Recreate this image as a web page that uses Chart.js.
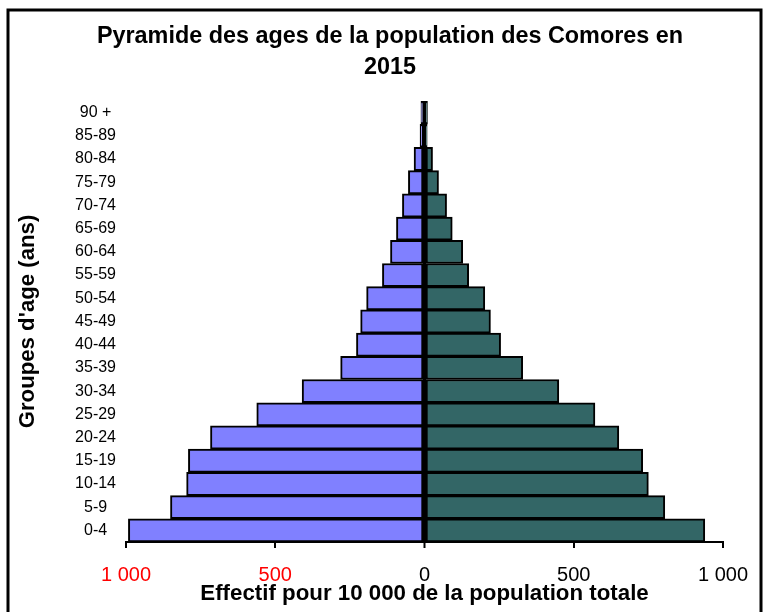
<!DOCTYPE html>
<html>
<head>
<meta charset="utf-8">
<script src="https://cdn.jsdelivr.net/npm/chart.js@4/dist/chart.umd.min.js"></script>
<style>
  html, body { margin: 0; padding: 0; background: #fff; }
  canvas { display: block; }
</style>
</head>
<body>
<canvas id="c" width="764" height="612"></canvas>
<script>
const ageGroups = ["90 +", "85-89", "80-84", "75-79", "70-74", "65-69", "60-64", "55-59", "50-54", "45-49",
                   "40-44", "35-39", "30-34", "25-29", "20-24", "15-19", "10-14", "5-9", "0-4"];
const hommes = [12, 15, 35, 54, 74, 94, 114, 141, 194, 214, 228, 281, 410, 562, 717, 791, 797, 851, 992];
const femmes = [10, 9, 27, 47, 74, 93, 128, 148, 202, 221, 255, 329, 450, 571, 651, 731, 750, 805, 939];
const xTicks = [-1000, -500, 0, 500, 1000];
const titleLines = ["Pyramide des ages de la population des Comores en", "2015"];
const xTitle = "Effectif pour 10 000 de la population totale";
const yTitle = "Groupes d'age (ans)";

Chart.defaults.font.family = "'Liberation Sans', Arial, sans-serif";
Chart.defaults.color = '#000';

const frame = {
  id: 'frame',
  afterDraw(chart) {
    const ctx = chart.ctx;
    ctx.save();
    ctx.strokeStyle = '#000';
    ctx.lineWidth = 3;
    ctx.strokeRect(8, 10, 753, 700);
    ctx.restore();
  }
};

function fmt(v) {
  const a = Math.abs(v);
  return a >= 1000 ? String(a).replace(/\B(?=(\d{3})+(?!\d))/g, ' ') : String(a);
}

new Chart(document.getElementById('c'), {
  type: 'bar',
  data: {
    labels: ageGroups,
    datasets: [
      { label: 'Hommes', data: hommes.map(v => -v), backgroundColor: '#8080FF',
        borderColor: '#000', borderWidth: 2, borderSkipped: false,
        barPercentage: 1, categoryPercentage: 1 },
      { label: 'Femmes', data: femmes, backgroundColor: '#336666',
        borderColor: '#000', borderWidth: 2, borderSkipped: false,
        barPercentage: 1, categoryPercentage: 1 }
    ]
  },
  options: {
    indexAxis: 'y',
    responsive: false,
    animation: false,
    devicePixelRatio: 1,
    layout: { padding: { left: 26, right: 10, top: 10, bottom: 0 } },
    plugins: {
      legend: { display: false },
      tooltip: { enabled: false },
      title: {
        display: true,
        text: titleLines,
        color: '#000',
        font: { size: 23.4, weight: 'bold', lineHeight: '31px' },
        padding: { top: 11.5, bottom: 17.5 }
      }
    },
    scales: {
      x: {
        type: 'linear',
        stacked: true,
        z: 1,
        min: -1000, max: 1000,
        afterBuildTicks(scale) { scale.ticks = xTicks.map(v => ({ value: v })); },
        afterFit(scale) { scale.height = 70; },
        border: { display: true, color: '#000', width: 2 },
        grid: {
          display: true, drawOnChartArea: true, drawTicks: true, tickLength: 6,
          color: (c) => (c.tick && c.tick.value === 0 ? '#000' : 'rgba(0,0,0,0)'),
          tickColor: '#000',
          lineWidth: (c) => (c.tick && c.tick.value === 0 ? 3 : 2),
          tickWidth: 2
        },
        ticks: {
          padding: 15,
          font: { size: 20 },
          color: (c) => (c.tick && c.tick.value < 0 ? '#FF0000' : '#000'),
          callback: (v) => fmt(v),
          maxRotation: 0
        },
        title: {
          display: true, text: xTitle, color: '#000',
          font: { size: 22.3, weight: 'bold' },
          padding: { top: 0, bottom: 5 }
        }
      },
      y: {
        type: 'category',
        stacked: true,
        afterFit(scale) { scale.width = 100; },
        border: { display: false },
        grid: { display: false, drawTicks: false },
        ticks: { padding: 10, crossAlign: 'center', font: { size: 16 }, color: '#000', autoSkip: false },
        title: {
          display: true, text: yTitle, color: '#000',
          font: { size: 22.2, weight: 'bold' },
          padding: { top: -11.3, bottom: 0 }
        }
      },
      y2: {
        type: 'category',
        position: 'right',
        display: true,
        afterFit(scale) { scale.width = 31; },
        border: { display: false },
        grid: { display: false, drawTicks: false },
        ticks: { display: false }
      }
    }
  },
  plugins: [frame]
});
</script>
</body>
</html>
